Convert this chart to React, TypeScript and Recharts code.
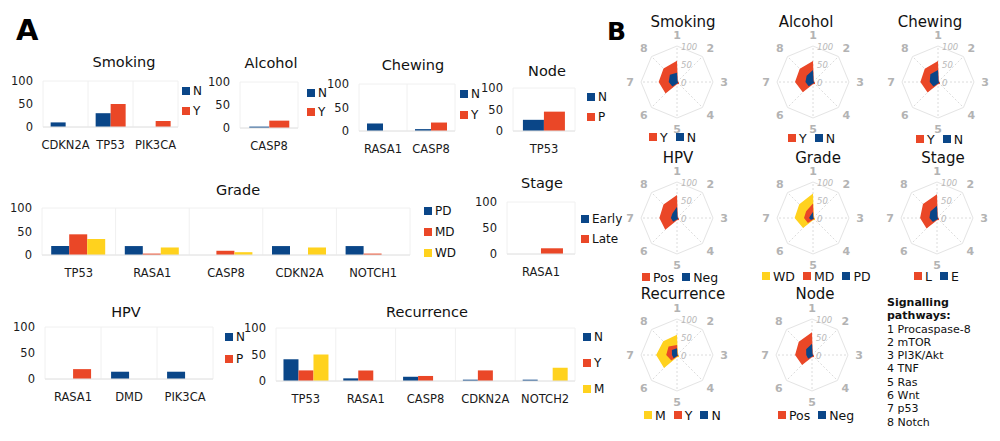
import React from 'react';
import {
  BarChart, Bar, XAxis, YAxis, CartesianGrid,
  RadarChart, Radar, PolarGrid, PolarAngleAxis, PolarRadiusAxis,
} from 'recharts';

const BLUE = '#0a4688';
const RED = '#ea4727';
const YELLOW = '#ffd21e';
const FONT = '"DejaVu Sans", sans-serif';

// ---- Panel A: mutation frequency (%) by clinical factor ----
const yTicks = [0, 50, 100];

const smokingGenes = ['CDKN2A', 'TP53', 'PIK3CA'];
const smokingN = [10, 30, 0];
const smokingY = [0, 50, 13];

const alcoholGenes = ['CASP8'];
const alcoholN = [3];
const alcoholY = [16];

const chewingGenes = ['RASA1', 'CASP8'];
const chewingN = [16, 4];
const chewingY = [0, 18];

const nodeGenes = ['TP53'];
const nodeN = [26];
const nodeP = [45];

const gradeGenes = ['TP53', 'RASA1', 'CASP8', 'CDKN2A', 'NOTCH1'];
const gradePD = [19, 19, 0, 19, 19];
const gradeMD = [44, 3, 9, 0, 3];
const gradeWD = [34, 16, 6, 16, 0];

const stageGenes = ['RASA1'];
const stageEarly = [0];
const stageLate = [11];

const hpvGenes = ['RASA1', 'DMD', 'PIK3CA'];
const hpvN = [0, 14, 14];
const hpvP = [19, 0, 0];

const recurrenceGenes = ['TP53', 'RASA1', 'CASP8', 'CDKN2A', 'NOTCH2'];
const recurrenceN = [41, 5, 8, 2.5, 2.5];
const recurrenceY = [20, 20, 9.5, 20, 0];
const recurrenceM = [50, 0, 0, 0, 25];

// ---- Panel B: signalling pathway radars ----
const pathwayAxes = ['1', '2', '3', '4', '5', '6', '7', '8'];
const pathwayNames = ['Procaspase-8', 'mTOR', 'PI3K/Akt', 'TNF', 'Ras', 'Wnt', 'p53', 'Notch'];
const radarTicks = [0, 50, 100];

const smokingRadarY = [59, 3, 5, 8, 6, 45, 51, 53];
const smokingRadarN = [26, 2, 3, 4, 4, 18, 23, 28];
const alcoholRadarY = [58, 3, 5, 8, 6, 40, 50, 52];
const alcoholRadarN = [33, 2, 3, 4, 4, 17, 21, 25];
const chewingRadarY = [58, 3, 5, 8, 6, 41, 49, 52];
const chewingRadarN = [33, 2, 3, 4, 4, 18, 23, 30];
const hpvRadarPos = [64, 3, 5, 8, 6, 46, 49, 53];
const hpvRadarNeg = [31, 2, 3, 4, 4, 15, 17, 18];
const gradeRadarWD = [68, 3, 5, 8, 6, 39, 51, 54];
const gradeRadarMD = [40, 2, 3, 5, 5, 20, 25, 27];
const gradeRadarPD = [17, 1, 2, 3, 3, 8, 11, 10];
const stageRadarL = [66, 3, 5, 8, 6, 41, 47, 55];
const stageRadarE = [34, 2, 3, 4, 4, 16, 21, 26];
const recurrenceRadarM = [56, 3, 5, 8, 6, 51, 58, 54];
const recurrenceRadarY = [28, 2, 3, 5, 4, 22, 30, 33];
const recurrenceRadarN = [19, 1, 2, 3, 3, 13, 14, 20];
const nodeRadarPos = [63, 3, 5, 8, 6, 39, 47, 52];
const nodeRadarNeg = [31, 2, 3, 4, 4, 15, 16, 23];

type Series = { name: string; values: number[]; color: string };

const Swatch = ({ color }: { color: string }) => (
  <span style={{ display: 'inline-block', width: 8, height: 8, background: color, marginRight: 3 }} />
);

interface BarPanelProps {
  title: string;
  titleX: number;
  titleY: number;
  plot: [number, number, number, number]; // left, top, right, bottom of plot area
  categories: string[];
  series: Series[];
  gap: string;
  legendX: number;
  legendYs: number[];
}

const BarPanel = ({ title, titleX, titleY, plot, categories, series, gap, legendX, legendYs }: BarPanelProps) => {
  const [x0, y0, x1, y1] = plot;
  const YW = 40, MT = 6, MR = 4, XH = 26;
  const n = categories.length;
  const data = categories.map((c, i) => {
    const row: Record<string, string | number> = { gene: c };
    series.forEach((s, j) => { row['s' + j] = s.values[i]; });
    return row;
  });

  return (
    <>
      <div style={{ position: 'absolute', left: titleX, top: titleY, transform: 'translate(-50%, -50%)', fontSize: 14.5, whiteSpace: 'nowrap', color: '#111' }}>
        {title}
      </div>
      <div style={{ position: 'absolute', left: x0 - YW, top: y0 - MT }}>
        <BarChart
          width={x1 - x0 + YW + MR}
          height={y1 - y0 + MT + XH}
          data={data}
          margin={{ top: MT, right: MR, bottom: 0, left: 0 }}
          barCategoryGap={gap}
          barGap={0}
        >
          <CartesianGrid
            stroke="#f0f0f0"
            verticalCoordinatesGenerator={({ offset }: any) =>
              Array.from({ length: n + 1 }, (_, i) => offset.left + (i * offset.width) / n)}
            horizontalCoordinatesGenerator={({ offset }: any) => [offset.top, offset.top + offset.height]}
          />
          <XAxis
            dataKey="gene"
            height={XH}
            interval={0}
            axisLine={{ stroke: '#e4e4e4' }}
            tickLine={false}
            tickSize={0}
            tickMargin={14}
            tick={{ fontSize: 11.5, fill: '#1a1a1a', fontFamily: FONT }}
          />
          <YAxis
            width={YW}
            domain={[0, 100]}
            ticks={yTicks}
            axisLine={false}
            tickLine={false}
            tickSize={0}
            tickMargin={10}
            tick={{ fontSize: 11.5, fill: '#1a1a1a', fontFamily: FONT }}
          />
          {series.map((s, j) => (
            <Bar key={s.name} dataKey={'s' + j} name={s.name} fill={s.color} isAnimationActive={false} />
          ))}
        </BarChart>
      </div>
      {series.map((s, j) => (
        <div key={s.name} style={{ position: 'absolute', left: legendX, top: legendYs[j] - 8, height: 16, display: 'flex', alignItems: 'center', fontSize: 12, color: '#111' }}>
          <Swatch color={s.color} />
          {s.name}
        </div>
      ))}
    </>
  );
};

const RS = 130; // radar chart box
const RR = 36; // outer radius

const AngleTick = (props: any) => {
  const { x, y, payload } = props;
  const dx = x - RS / 2, dy = y - RS / 2;
  const len = Math.sqrt(dx * dx + dy * dy) || 1;
  const r = 47;
  return (
    <text x={RS / 2 + (dx / len) * r} y={RS / 2 + (dy / len) * r} textAnchor="middle" dominantBaseline="central"
      fontSize={11} fontWeight="bold" fill="#b3b3b3" fontFamily={FONT}>
      {payload.value}
    </text>
  );
};

const RadiusTick = (props: any) => {
  const { x, y, payload } = props;
  return (
    <text x={x + 4} y={y + 1} dominantBaseline="central" fontSize={8.5} fontStyle="italic" fill="#b8b8b8" fontFamily={FONT}>
      {payload.value}
    </text>
  );
};

interface RadarPanelProps {
  title: string;
  titleX: number;
  titleY: number;
  cx: number;
  cy: number;
  series: Series[];
  legendX: number;
  legendY: number;
}

const RadarPanel = ({ title, titleX, titleY, cx, cy, series, legendX, legendY }: RadarPanelProps) => {
  const data = pathwayAxes.map((a, i) => {
    const row: Record<string, string | number> = { axis: a };
    series.forEach((s, j) => { row['s' + j] = s.values[i]; });
    return row;
  });
  return (
    <>
      <div style={{ position: 'absolute', left: titleX, top: titleY - 3, transform: 'translate(-50%, -50%)', fontSize: 15, lineHeight: 1, whiteSpace: 'nowrap', color: '#111' }}>
        {title}
      </div>
      <div style={{ position: 'absolute', left: cx - RS / 2, top: cy - RS / 2 }}>
        <RadarChart width={RS} height={RS} data={data} outerRadius={RR} margin={{ top: 0, right: 0, bottom: 0, left: 0 }}>
          <PolarGrid gridType="polygon" radialLines={false} polarRadius={[RR]} stroke="#e4e4e4" />
          <PolarGrid gridType="polygon" polarRadius={[0.3]} stroke="#dcdcdc" strokeDasharray="2 2" />
          <PolarAngleAxis dataKey="axis" tick={AngleTick} tickLine={false} axisLine={false} />
          <PolarRadiusAxis angle={90} domain={[0, 100]} tickCount={3} ticks={radarTicks as any} tick={RadiusTick} axisLine={false} tickLine={false} />
          {series.map((s, j) => (
            <Radar key={s.name} dataKey={'s' + j} name={s.name} fill={s.color} fillOpacity={1} stroke="none" isAnimationActive={false} />
          ))}
        </RadarChart>
      </div>
      <div style={{ position: 'absolute', left: legendX, top: legendY - 8, height: 16, display: 'flex', alignItems: 'center', fontSize: 12.5, color: '#111', whiteSpace: 'nowrap' }}>
        {series.map((s) => (
          <span key={s.name} style={{ display: 'flex', alignItems: 'center', marginRight: 8 }}>
            <Swatch color={s.color} />
            {s.name}
          </span>
        ))}
      </div>
    </>
  );
};

export default function App() {
  return (
    <div style={{ position: 'absolute', left: 0, top: 0, width: 1000, height: 441, background: '#fff', fontFamily: FONT, overflow: 'hidden' }}>
      <div style={{ position: 'absolute', left: 16, top: 16, fontSize: 29, fontWeight: 'bold', lineHeight: 1 }}>A</div>
      <div style={{ position: 'absolute', left: 607, top: 19, fontSize: 25, fontWeight: 'bold', lineHeight: 1 }}>B</div>

      <BarPanel title="Smoking" titleX={124} titleY={62} plot={[43, 81, 178, 127]} categories={smokingGenes}
        series={[{ name: 'N', values: smokingN, color: BLUE }, { name: 'Y', values: smokingY, color: RED }]}
        gap="17%" legendX={182} legendYs={[91, 111]} />
      <BarPanel title="Alcohol" titleX={271} titleY={63} plot={[240, 82, 298, 128]} categories={alcoholGenes}
        series={[{ name: 'N', values: alcoholN, color: BLUE }, { name: 'Y', values: alcoholY, color: RED }]}
        gap="16%" legendX={307} legendYs={[93, 112]} />
      <BarPanel title="Chewing" titleX={413} titleY={65} plot={[359, 84, 455, 131]} categories={chewingGenes}
        series={[{ name: 'N', values: chewingN, color: BLUE }, { name: 'Y', values: chewingY, color: RED }]}
        gap="16.7%" legendX={460} legendYs={[94, 115]} />
      <BarPanel title="Node" titleX={547} titleY={71} plot={[513, 88, 575, 131]} categories={nodeGenes}
        series={[{ name: 'N', values: nodeN, color: BLUE }, { name: 'P', values: nodeP, color: RED }]}
        gap="16%" legendX={587} legendYs={[97, 117]} />

      <BarPanel title="Grade" titleX={238} titleY={190} plot={[42, 208, 410, 255]} categories={gradeGenes}
        series={[{ name: 'PD', values: gradePD, color: BLUE }, { name: 'MD', values: gradeMD, color: RED }, { name: 'WD', values: gradeWD, color: YELLOW }]}
        gap="12.5%" legendX={424} legendYs={[211, 232, 253]} />
      <BarPanel title="Stage" titleX={542} titleY={183} plot={[507, 202, 575, 254]} categories={stageGenes}
        series={[{ name: 'Early', values: stageEarly, color: BLUE }, { name: 'Late', values: stageLate, color: RED }]}
        gap="17.6%" legendX={581} legendYs={[219, 239]} />

      <BarPanel title="HPV" titleX={126} titleY={312} plot={[45, 327, 213, 379]} categories={hpvGenes}
        series={[{ name: 'N', values: hpvN, color: BLUE }, { name: 'P', values: hpvP, color: RED }]}
        gap="18%" legendX={225} legendYs={[337, 359]} />
      <BarPanel title="Recurrence" titleX={427} titleY={312} plot={[276, 328, 575, 381]} categories={recurrenceGenes}
        series={[{ name: 'N', values: recurrenceN, color: BLUE }, { name: 'Y', values: recurrenceY, color: RED }, { name: 'M', values: recurrenceM, color: YELLOW }]}
        gap="12.5%" legendX={583} legendYs={[337, 363, 389]} />

      <RadarPanel title="Smoking" titleX={683} titleY={25} cx={677} cy={82}
        series={[{ name: 'Y', values: smokingRadarY, color: RED }, { name: 'N', values: smokingRadarN, color: BLUE }]}
        legendX={649} legendY={137} />
      <RadarPanel title="Alcohol" titleX={806} titleY={25} cx={813} cy={82}
        series={[{ name: 'Y', values: alcoholRadarY, color: RED }, { name: 'N', values: alcoholRadarN, color: BLUE }]}
        legendX={788} legendY={138} />
      <RadarPanel title="Chewing" titleX={930} titleY={25} cx={938} cy={82}
        series={[{ name: 'Y', values: chewingRadarY, color: RED }, { name: 'N', values: chewingRadarN, color: BLUE }]}
        legendX={916} legendY={139} />

      <RadarPanel title="HPV" titleX={678} titleY={161} cx={677} cy={218}
        series={[{ name: 'Pos', values: hpvRadarPos, color: RED }, { name: 'Neg', values: hpvRadarNeg, color: BLUE }]}
        legendX={642} legendY={277} />
      <RadarPanel title="Grade" titleX={818} titleY={161} cx={813} cy={218}
        series={[{ name: 'WD', values: gradeRadarWD, color: YELLOW }, { name: 'MD', values: gradeRadarMD, color: RED }, { name: 'PD', values: gradeRadarPD, color: BLUE }]}
        legendX={762} legendY={276} />
      <RadarPanel title="Stage" titleX={943} titleY={161} cx={937} cy={218}
        series={[{ name: 'L', values: stageRadarL, color: RED }, { name: 'E', values: stageRadarE, color: BLUE }]}
        legendX={914} legendY={276} />

      <RadarPanel title="Recurrence" titleX={683} titleY={297} cx={677} cy={355}
        series={[{ name: 'M', values: recurrenceRadarM, color: YELLOW }, { name: 'Y', values: recurrenceRadarY, color: RED }, { name: 'N', values: recurrenceRadarN, color: BLUE }]}
        legendX={644} legendY={415} />
      <RadarPanel title="Node" titleX={815} titleY={297} cx={812} cy={355}
        series={[{ name: 'Pos', values: nodeRadarPos, color: RED }, { name: 'Neg', values: nodeRadarNeg, color: BLUE }]}
        legendX={778} legendY={415} />

      <div style={{ position: 'absolute', left: 887, top: 296, fontSize: 11, lineHeight: '13.3px', color: '#111', whiteSpace: 'nowrap' }}>
        <div style={{ fontWeight: 'bold' }}>Signalling</div>
        <div style={{ fontWeight: 'bold' }}>pathways:</div>
        {pathwayNames.map((p, i) => (
          <div key={p}>{pathwayAxes[i]} {p}</div>
        ))}
      </div>
    </div>
  );
}
